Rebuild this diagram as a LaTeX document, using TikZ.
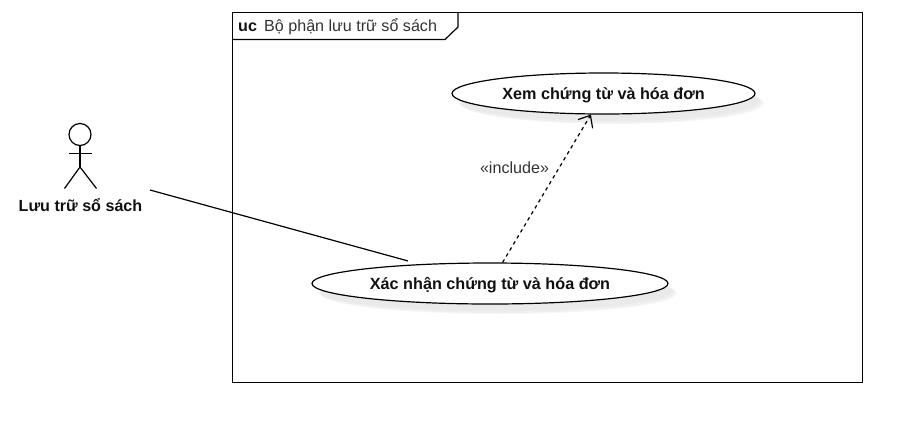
\documentclass[tikz,border=0pt]{standalone}
\usepackage{fontspec}
\setmainfont{Liberation Sans}
\usetikzlibrary{arrows.meta,shadows,calc,shapes.geometric}
\definecolor{ink}{HTML}{111111}
\tikzset{
  x=1pt,y=-1pt,
  line/.style={draw=black,line width=1.2pt},
  usecase/.style={line,ellipse,fill=white,inner sep=0pt,font=\bfseries\fontsize{16.2}{18}\selectfont,text=ink,
    general shadow={shadow xshift=5pt,shadow yshift=-7pt,fill=black,fill opacity=.02,draw=none},
    general shadow={shadow xshift=7pt,shadow yshift=-9pt,fill=black,fill opacity=.03,draw=none},
    general shadow={shadow xshift=9pt,shadow yshift=-10pt,fill=black,fill opacity=.03,draw=none}},
  label/.style={font=\fontsize{16.1}{18}\selectfont,text=ink,inner sep=0pt},
  assoc/.style={line,shorten >=12pt},
  incl/.style={draw=black,line width=1.2pt,dash pattern=on 3.5pt off 3.5pt,-{Straight Barb[length=10pt,width=17pt,line width=1.2pt]}},
}
\begin{document}
\begin{tikzpicture}
\useasboundingbox (0,0) rectangle (912,432);
% frame
\node[draw=black,line width=1.1pt,rectangle,minimum width=630pt,minimum height=370pt,inner sep=0pt,outer sep=0pt,anchor=center] (frame) at (547.5,197.5) {};
\draw[line] (233,39.5) -- (445,39.5) -- (458,27) -- (458,13);
\node[label,anchor=base west,font=\bfseries\fontsize{16.1}{18}\selectfont] (uc) at (238,31.5) {uc};
\node[label,anchor=base west,text=black!80] (title) at (264,31.5) {Bộ phận lưu trữ sổ sách};
% actor
\node[line,circle,minimum size=22pt,inner sep=0pt] (head) at (80,134.5) {};
\coordinate (hip) at (80,167);
\coordinate (armL) at (69,153.5);
\coordinate (armR) at (92,153.5);
\coordinate (footL) at (64.5,188.5);
\coordinate (footR) at (96.5,188.5);
\draw[line] (head.south) -- (hip);
\draw[line] (armL) -- (armR);
\draw[line] (footL) -- (hip) -- (footR);
\node[label,font=\bfseries\fontsize{16.1}{18}\selectfont] (actor) at (80.5,205.5) {Lưu trữ sổ sách};
% use cases
\node[usecase,minimum width=303pt,minimum height=41pt,text depth=0pt] (view) at (603.5,93.5) {Xem chứng từ và hóa đơn};
\node[usecase,minimum width=356pt,minimum height=41pt,text depth=0pt] (confirm) at (490,283.5) {Xác nhận chứng từ và hóa đơn};
% connectors
\coordinate (actorEnd) at (150,190);
\draw[assoc] (actorEnd) -- (confirm);
\draw[incl] (confirm) -- (view);
\node[label,text=black!80] (include) at (514.5,168) {«include»};
\end{tikzpicture}
\end{document}
